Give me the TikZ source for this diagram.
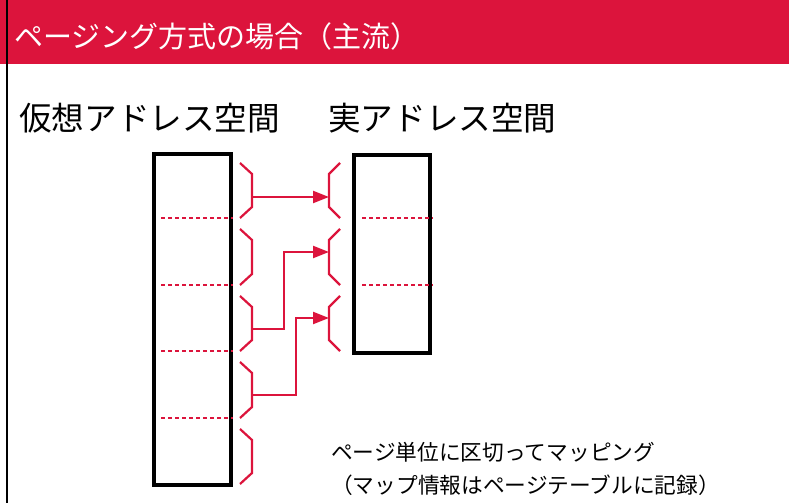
\documentclass[tikz,border=0pt]{standalone}
\usepackage{fontspec}
\setmainfont{Noto Sans CJK JP}
\usetikzlibrary{arrows.meta}
\definecolor{crim}{HTML}{DC143C}
\newcommand\pgBraceL[2]{\draw[brace] (240,#1) -- (252,#1+11) -- (252,#2-11) -- (240,#2);}
\newcommand\pgBraceR[2]{\draw[brace] (340,#1) -- (329,#1+11) -- (329,#2-11) -- (340,#2);}
\begin{document}
\begin{tikzpicture}[x=1pt,y=-1pt,
  pagebox/.style={draw=black,line width=4.2pt,inner sep=0},
  sep/.style={draw=crim,line width=1.7pt,dash pattern=on 4pt off 3pt},
  brace/.style={draw=crim,line width=2.2pt},
  link/.style={draw=crim,line width=2.2pt,-{Triangle[length=16pt,width=12pt]}},
  txt/.style={anchor=west,inner sep=0}]
\useasboundingbox (0,0) rectangle (789,503);
\fill[crim] (0,0) rectangle (789,64);
\draw[line width=2.5pt] (7,0) -- (7,503);
\node[txt,text=white,font=\fontsize{29}{32}\selectfont] (title) at (14,36) {ページング方式の場合（主流）};
\node[txt,font=\fontsize{32.6}{36}\selectfont] (vlabel) at (19,118) {仮想アドレス空間};
\node[txt,font=\fontsize{32.6}{36}\selectfont] (rlabel) at (328,118) {実アドレス空間};
% boxes
\node[pagebox,minimum width=77pt,minimum height=331pt,anchor=north west] (vbox) at (152,152) {};
\node[pagebox,minimum width=76pt,minimum height=198pt,anchor=north west] (rbox) at (352,153) {};
% page separators
\foreach \yy in {218,285,351,418} \draw[sep] (161,\yy) -- (vbox.east |- {(0,\yy)});
\foreach \yy in {218,285} \draw[sep] (362,\yy) -- (rbox.east |- {(0,\yy)});
% braces
\pgBraceL{163}{218}
\pgBraceL{229}{285}
\pgBraceL{296}{351}
\pgBraceL{362}{418}
\pgBraceL{429}{484}
\pgBraceR{163}{218}
\pgBraceR{229}{285}
\pgBraceR{296}{351}
% mapping
\coordinate (v1) at (252,197);
\coordinate (v3) at (252,329);
\coordinate (v4) at (252,395);
\coordinate (r1) at (329,197);
\coordinate (r2) at (329,252);
\coordinate (r3) at (329,318);
\draw[link] (v1) -- (r1);
\draw[link] (v3) -- ++(32,0) |- (r2);
\draw[link] (v4) -- ++(44,0) |- (r3);
% note
\node[txt,font=\fontsize{21.7}{24}\selectfont] (note1) at (331,452) {ページ単位に区切ってマッピング};
\node[txt,font=\fontsize{21.7}{24}\selectfont] (note2) at (331,485) {（マップ情報はページテーブルに記録）};
\end{tikzpicture}
\end{document}
